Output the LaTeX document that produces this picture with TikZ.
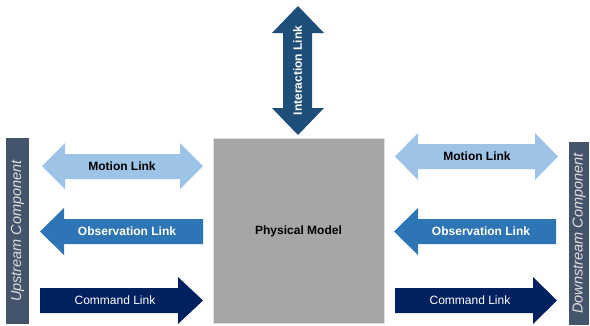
\documentclass[tikz,border=0pt]{standalone}
\usepackage{fontspec}
\setmainfont{Liberation Sans}
\usetikzlibrary{positioning}
\definecolor{barslate}{HTML}{44546A}
\definecolor{motionblue}{HTML}{9DC3E6}
\definecolor{obsblue}{HTML}{2E75B6}
\definecolor{cmdnavy}{HTML}{002060}
\definecolor{interblue}{HTML}{1F4E79}
\definecolor{modelgray}{HTML}{A6A6A6}
\tikzstyle{linklabel}=[inner sep=0pt, font=\fontsize{12}{14}\selectfont]
\tikzstyle{component}=[inner sep=0pt, text=white!88!black, font=\itshape\fontsize{14.5}{16}\selectfont]

\begin{document}
\begin{tikzpicture}[x=1pt, y=-1pt]
    \useasboundingbox (0,0) rectangle (590,325);

    % components and model
    \fill[barslate] (6,138) rectangle (29,324);
    \fill[barslate] (569,142) rectangle (589,325);
    \filldraw[fill=modelgray, draw=black!12, line width=0.6pt] (213,138) rectangle (384,323);
    \node[component, rotate=90] (up)   at (17.5,231)  {Upstream Component};
    \node[component, rotate=90] (down) at (579,233.5) {Downstream Component};
    \node[linklabel, font=\bfseries\fontsize{12}{14}\selectfont] (model) at (298.5,231) {Physical Model};

    % interaction link
    \fill[interblue] (298,6) -- (324,33) -- (312,33) -- (312,108) -- (324,108) -- (298,135)
      -- (272,108) -- (283,108) -- (283,33) -- (272,33) -- cycle;
    \node[linklabel, text=white, rotate=90, font=\bfseries\fontsize{12}{14}\selectfont] (inter) at (297.5,70.5) {Interaction Link};

    % left links
    \fill[motionblue] (42,166) -- (65,143) -- (65,154) -- (180,154) -- (180,143) -- (203,166)
      -- (180,189) -- (180,179) -- (65,179) -- (65,189) -- cycle;
    \fill[obsblue] (40,231.5) -- (64,208) -- (64,219) -- (203,219) -- (203,244) -- (64,244)
      -- (64,255) -- cycle;
    \fill[cmdnavy] (40,288) -- (178,288) -- (178,277) -- (203,300.5) -- (178,324) -- (178,313)
      -- (40,313) -- cycle;
    \node[linklabel, font=\bfseries\fontsize{12}{14}\selectfont] (motionl) at (122,166) {Motion Link};
    \node[linklabel, text=white, font=\bfseries\fontsize{12}{14}\selectfont] (obsl) at (127,231.5) {Observation Link};
    \node[linklabel, text=white] (cmdl) at (115,300.5) {Command Link};

    % right links
    \fill[motionblue] (395,156.5) -- (418,133) -- (418,144) -- (535,144) -- (535,133) -- (558,156.5)
      -- (535,180) -- (535,169) -- (418,169) -- (418,180) -- cycle;
    \fill[obsblue] (394,231.5) -- (418,208) -- (418,219) -- (556,219) -- (556,244) -- (418,244)
      -- (418,255) -- cycle;
    \fill[cmdnavy] (395,288) -- (533,288) -- (533,277) -- (557,300.5) -- (533,324) -- (533,313)
      -- (395,313) -- cycle;
    \node[linklabel, font=\bfseries\fontsize{12}{14}\selectfont] (motionr) at (477,156.5) {Motion Link};
    \node[linklabel, text=white, font=\bfseries\fontsize{12}{14}\selectfont] (obsr) at (481,231.5) {Observation Link};
    \node[linklabel, text=white] (cmdr) at (470,300.5) {Command Link};
\end{tikzpicture}
\end{document}
